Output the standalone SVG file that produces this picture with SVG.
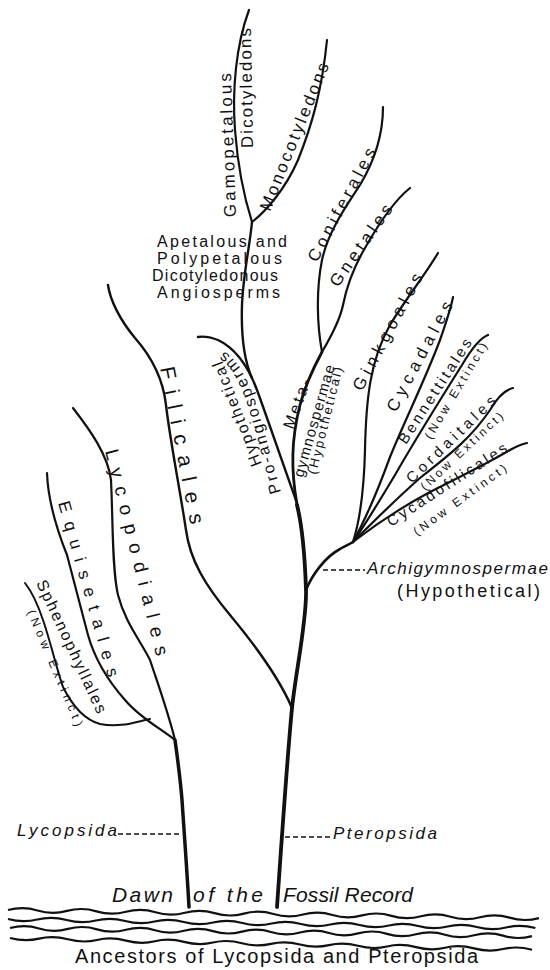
<svg xmlns="http://www.w3.org/2000/svg" width="550" height="970" viewBox="0 0 550 970">
<style>
.ln{fill:none;stroke:#111;stroke-linecap:round;stroke-linejoin:round}
.t{fill:#111;font-family:"Liberation Sans",Arial,sans-serif}
.i{font-style:italic}
.d{fill:none;stroke:#111;stroke-width:1.3;stroke-dasharray:5 3}
.w{fill:none;stroke:#111;stroke-width:2.2}
</style>
<rect width="550" height="970" fill="#fff"/>
<g id="connectors">
  <path class="ln" stroke-width="3.8" d="M277 907 C 281 850 287 760 292 708 C 296 670 307 620 306 590 C 305 560 302 525 297 505"/>
  <path class="ln" stroke-width="3.5" d="M189 907 C 187 870 184 830 182 800 C 180 775 177 755 175 740"/>
  <path class="ln" stroke-width="2.4" d="M292 708 C 280 680 255 645 230 615 C 205 585 190 560 186 530 C 180 490 170 440 166 405 C 163 378 150 355 135 338 C 120 320 110 300 108 285"/>
  <path class="ln" stroke-width="2.4" d="M297 503 C 285 470 268 420 257 390 C 248 366 235 348 218 340 C 210 337 203 336 198 337"/>
  <path class="ln" stroke-width="2.4" d="M252 378 C 244 360 241 335 242 305 C 243 275 250 245 252 222"/>
  <path class="ln" stroke-width="2.2" d="M252 222 C 245 200 238 170 235 130 C 232 90 236 45 249 10"/>
  <path class="ln" stroke-width="2.2" d="M252 222 C 265 212 285 190 298 160 C 312 125 322 90 327 40"/>
  <path class="ln" stroke-width="2.8" d="M297 505 C 291 470 291 440 300 405 C 306 382 315 365 322 352"/>
  <path class="ln" stroke-width="2.2" d="M322 352 C 317 325 316 290 322 260 C 328 232 345 208 360 185 C 375 160 383 135 383 107"/>
  <path class="ln" stroke-width="2.2" d="M322 352 C 332 335 340 320 343 305 C 347 285 355 265 365 248 C 378 225 395 200 410 188"/>
  <path class="ln" stroke-width="2.6" d="M306 590 C 312 575 325 557 340 549 C 345 546 350 544 353 542"/>
  <path class="ln" stroke-width="2.2" d="M353 542 C 360 520 364 490 365 450 C 366 400 370 360 390 325 C 405 300 425 275 438 253"/>
  <path class="ln" stroke-width="2.2" d="M353 542 C 365 520 378 490 390 457 C 405 420 425 380 440 340 C 447 320 451 308 453 297"/>
  <path class="ln" stroke-width="2.2" d="M353 542 C 365 525 380 500 395 475 C 415 440 440 400 462 365 C 472 348 480 338 488 335"/>
  <path class="ln" stroke-width="2.2" d="M353 542 C 370 525 395 500 420 478 C 445 458 470 440 490 410 C 497 398 505 390 513 388"/>
  <path class="ln" stroke-width="2.2" d="M353 542 C 375 525 400 508 430 492 C 460 477 490 462 510 450 C 517 446 522 444 527 443"/>
  <path class="ln" stroke-width="2.2" d="M175 740 C 168 712 160 690 150 660 C 140 640 125 622 118 595 C 112 570 113 520 111 480 C 108 455 90 430 73 408"/>
  <path class="ln" stroke-width="2.2" d="M175 740 C 160 728 140 718 125 700 C 110 683 95 660 88 635 C 80 605 75 585 67 555 C 55 525 48 500 47 473"/>
  <path class="ln" stroke-width="2" d="M150 719 C 135 722 120 728 100 724 C 85 720 72 705 63 687 C 57 670 50 640 43 620 C 38 605 32 592 25 583"/>
  <line class="d" x1="118" y1="834" x2="181" y2="834"/>
  <line class="d" x1="285" y1="837" x2="332" y2="837"/>
  <line class="d" x1="323" y1="570" x2="365" y2="570"/>
</g>
<g id="strata">
  <path class="w" d="M8 910 q15 -4 29.5 0.45 t29.5 0.45 t29.5 0.45 t29.5 0.45 t29.5 0.45 t29.5 0.45 t29.5 0.45 t29.5 0.45 t29.5 0.45 t29.5 0.45 t29.5 0.45 t29.5 0.45 t29.5 0.45 t29.5 0.45 t29.5 0.45 t29.5 0.45 t29.5 0.45 t29.5 0.45"/>
  <path class="w" d="M8 919 q15 4 29.3 0.5 t29.3 0.5 t29.3 0.5 t29.3 0.5 t29.3 0.5 t29.3 0.5 t29.3 0.5 t29.3 0.5 t29.3 0.5 t29.3 0.5 t29.3 0.5 t29.3 0.5 t29.3 0.5 t29.3 0.5 t29.3 0.5 t29.3 0.5 t29.3 0.5 t29.3 0.5"/>
  <path class="w" d="M10 928 q15 -4 29 0.45 t29 0.45 t29 0.45 t29 0.45 t29 0.45 t29 0.45 t29 0.45 t29 0.45 t29 0.45 t29 0.45 t29 0.45 t29 0.45 t29 0.45 t29 0.45 t29 0.45 t29 0.45 t29 0.45 t29 0.45"/>
  <path class="w" d="M10 938 q15 4 29 0.65 t29 0.65 t29 0.65 t29 0.65 t29 0.65 t29 0.65 t29 0.65 t29 0.65 t29 0.65 t29 0.65 t29 0.65 t29 0.65 t29 0.65 t29 0.65 t29 0.65 t29 0.65 t29 0.65 t29 0.65"/>
</g>
<g id="gamopetalous"><text class="t" font-size="17" transform="translate(236,217) rotate(-92)" textLength="144" lengthAdjust="spacing">Gamopetalous</text>
<text class="t" font-size="17" transform="translate(253,148) rotate(-91)" textLength="120" lengthAdjust="spacing">Dicotyledons</text></g>
<g id="monocotyledons"><text class="t" font-size="17" transform="translate(270,212) rotate(-68)" textLength="158" lengthAdjust="spacing">Monocotyledons</text></g>
<g id="apetalous">
<text class="t" font-size="16" x="157" y="247" textLength="130" lengthAdjust="spacing">Apetalous and</text>
<text class="t" font-size="16" x="157" y="264" textLength="125" lengthAdjust="spacing">Polypetalous</text>
<text class="t" font-size="16" x="152" y="281" textLength="126" lengthAdjust="spacing">Dicotyledonous</text>
<text class="t" font-size="16" x="157" y="298" textLength="123" lengthAdjust="spacing">Angiosperms</text></g>
<g id="coniferales"><text class="t" font-size="17" transform="translate(317,263) rotate(-62)" textLength="126" lengthAdjust="spacing">Coniferales</text></g>
<g id="gnetales"><text class="t" font-size="17" transform="translate(338,288) rotate(-55)" textLength="96" lengthAdjust="spacing">Gnetales</text></g>
<g id="ginkgoales"><text class="t" font-size="17" transform="translate(362,392) rotate(-62)" textLength="130" lengthAdjust="spacing">Ginkgoales</text></g>
<g id="cycadales"><text class="t" font-size="17" transform="translate(396,413) rotate(-62)" textLength="122" lengthAdjust="spacing">Cycadales</text></g>
<g id="bennettitales"><text class="t" font-size="15" transform="translate(406,445) rotate(-57)" textLength="122" lengthAdjust="spacing">Bennettitales</text>
<text class="t" font-size="12" transform="translate(431,440) rotate(-59)" textLength="110" lengthAdjust="spacing">(Now Extinct)</text></g>
<g id="cordaitales"><text class="t" font-size="15" transform="translate(412,484) rotate(-44)" textLength="118" lengthAdjust="spacing">Cordaitales</text>
<text class="t" font-size="12" transform="translate(425,491) rotate(-43)" textLength="108" lengthAdjust="spacing">(Now Extinct)</text></g>
<g id="cycadofilicales"><text class="t" font-size="15" transform="translate(391,527) rotate(-33)" textLength="140" lengthAdjust="spacing">Cycadofilicales</text>
<text class="t" font-size="12" transform="translate(417,536) rotate(-36)" textLength="112" lengthAdjust="spacing">(Now Extinct)</text></g>
<g id="metagymnospermae">
<text class="t" font-size="16" transform="translate(293,430) rotate(-70)" textLength="52" lengthAdjust="spacing">Meta-</text>
<text class="t" font-size="15" transform="translate(303,478) rotate(-74)" textLength="116" lengthAdjust="spacing">gymnospermae</text>
<text class="t" font-size="13" transform="translate(316,475) rotate(-76)" textLength="110" lengthAdjust="spacing">(Hypothetical)</text></g>
<g id="proangiosperms">
<text class="t" font-size="16" transform="translate(262,464) rotate(-111)" textLength="111" lengthAdjust="spacing">Hypothetical</text>
<path id="pa" d="M281 492 C 272 462 262 420 253 395 C 246 376 236 358 222 350 C 214 346 206 345 198 345" fill="none"/>
<text class="t" font-size="16" letter-spacing="2.3"><textPath href="#pa">Pro-angiosperms</textPath></text></g>
<g id="archigymnospermae">
<text class="t i" font-size="17" x="367" y="574" textLength="181" lengthAdjust="spacing">Archigymnospermae</text>
<text class="t" font-size="18" x="397" y="597" textLength="143" lengthAdjust="spacing">(Hypothetical)</text></g>
<g id="filicales"><text class="t" font-size="21" transform="translate(160,368) rotate(79)" textLength="160" lengthAdjust="spacing">Filicales</text></g>
<g id="lycopodiales"><text class="t" font-size="19" transform="translate(105,451) rotate(76)" textLength="212" lengthAdjust="spacing">Lycopodiales</text></g>
<g id="equisetales"><text class="t" font-size="17" transform="translate(58,503) rotate(74)" textLength="182" lengthAdjust="spacing">Equisetales</text></g>
<g id="sphenophyllales"><text class="t" font-size="16" transform="translate(36,583) rotate(65)" textLength="145" lengthAdjust="spacing">Sphenophyllales</text>
<text class="t" font-size="12" transform="translate(27,612) rotate(67)" textLength="125" lengthAdjust="spacing">(Now Extinct)</text></g>
<g id="lycopsida"><text class="t i" font-size="17" x="17" y="836" textLength="100" lengthAdjust="spacing">Lycopsida</text></g>
<g id="pteropsida"><text class="t i" font-size="17" x="333" y="839" textLength="104" lengthAdjust="spacing">Pteropsida</text></g>
<g id="dawn">
<text class="t i" font-size="21" x="112" y="902" textLength="61" lengthAdjust="spacing">Dawn</text>
<text class="t i" font-size="21" x="193" y="902" textLength="70" lengthAdjust="spacing">of the</text>
<text class="t i" font-size="21" x="283" y="902" textLength="130" lengthAdjust="spacing">Fossil Record</text></g>
<g id="ancestors"><text class="t" font-size="20" x="75" y="963" textLength="403" lengthAdjust="spacing">Ancestors of Lycopsida and Pteropsida</text></g>
</svg>
